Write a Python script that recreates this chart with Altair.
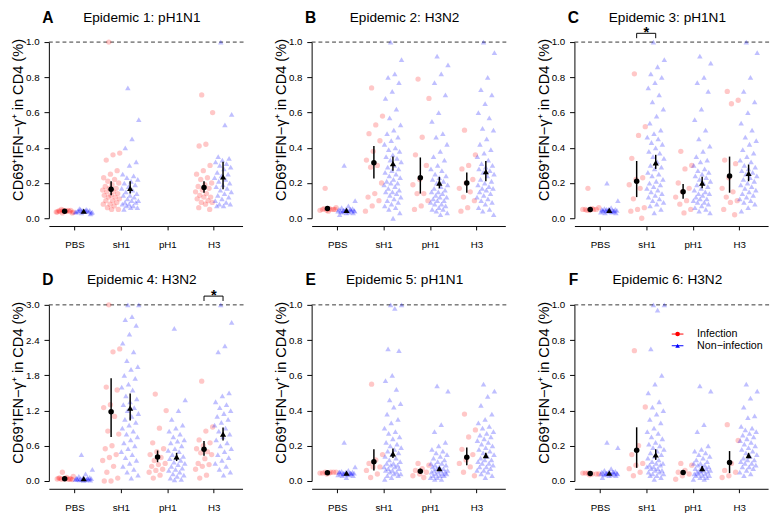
import json
import altair as alt
import pandas as pd

CATEGORIES = ["PBS", "sH1", "pH1", "H3"]
GROUPS = ["inf", "non"]
PANELS = ["A", "B", "C", "D", "E", "F"]
TITLES = ["Epidemic 1: pH1N1", "Epidemic 2: H3N2", "Epidemic 3: pH1N1",
          "Epidemic 4: H3N2", "Epidemic 5: pH1N1", "Epidemic 6: H3N2"]
Y_MAX = [1.0, 1.0, 1.0, 3.0, 1.0, 1.0]
Y_TICKS_1 = [0.0, 0.2, 0.4, 0.6, 0.8, 1.0]
Y_TICKS_3 = [0.0, 0.6, 1.2, 1.8, 2.4, 3.0]
SIGNIFICANT = [("C", "sH1"), ("D", "H3")]
LEGEND_LABELS = ["Infection", "Non\u2212infection"]
Y_TITLE = "CD69\u207aIFN\u2212\u03b3\u207a in CD4 (%)"

# ---------------- Panel A ----------------
A_PBS_inf = [0.03, 0.035, 0.04, 0.04, 0.045, 0.04, 0.035, 0.045, 0.05, 0.03, 0.04, 0.042, 0.038, 0.044, 0.036]
A_PBS_non = [0.03, 0.035, 0.04, 0.04, 0.045, 0.04, 0.035, 0.045, 0.05, 0.03, 0.04, 0.042, 0.038, 0.044, 0.036, 0.05, 0.055, 0.025]
A_sH1_inf = [1.0, 0.37, 0.36, 0.33, 0.27, 0.25, 0.23, 0.22, 0.21, 0.2, 0.19, 0.18, 0.17, 0.17, 0.16, 0.15, 0.15, 0.14, 0.13, 0.13, 0.12, 0.12, 0.11, 0.1, 0.1, 0.09, 0.08, 0.08, 0.07, 0.06, 0.05, 0.05]
A_sH1_non = [0.74, 0.56, 0.45, 0.4, 0.32, 0.3, 0.25, 0.24, 0.23, 0.22, 0.21, 0.2, 0.19, 0.18, 0.17, 0.16, 0.15, 0.14, 0.13, 0.13, 0.12, 0.11, 0.1, 0.1, 0.09, 0.09, 0.08, 0.08, 0.07, 0.07, 0.06, 0.06, 0.05]
A_pH1_inf = []
A_pH1_non = []
A_H3_inf = [0.7, 0.6, 0.42, 0.41, 0.3, 0.27, 0.25, 0.23, 0.22, 0.2, 0.19, 0.18, 0.17, 0.16, 0.15, 0.14, 0.13, 0.12, 0.12, 0.11, 0.1, 0.09, 0.09, 0.08, 0.06, 0.05]
A_H3_non = [1.0, 0.59, 0.53, 0.35, 0.34, 0.33, 0.32, 0.31, 0.3, 0.29, 0.28, 0.26, 0.25, 0.24, 0.23, 0.22, 0.21, 0.2, 0.19, 0.18, 0.17, 0.16, 0.15, 0.14, 0.13, 0.12, 0.11, 0.1, 0.09, 0.08, 0.08, 0.07, 0.07]
A_inf_ci = [(0.04, 0.037, 0.043), (0.165, 0.13, 0.21), None, (0.175, 0.145, 0.21)]
A_non_ci = [(0.04, 0.037, 0.043), (0.17, 0.14, 0.21), None, (0.235, 0.165, 0.32)]

# ---------------- Panel B ----------------
B_PBS_inf = [0.17, 0.06, 0.055, 0.05, 0.05, 0.045, 0.045, 0.05, 0.055, 0.05, 0.04]
B_PBS_non = [0.3, 0.1, 0.07, 0.06, 0.055, 0.05, 0.05, 0.05, 0.045, 0.045, 0.045, 0.04, 0.04, 0.04, 0.04, 0.035, 0.035, 0.03, 0.03, 0.02, 0.05, 0.045, 0.04]
B_sH1_inf = [0.74, 0.58, 0.53, 0.48, 0.44, 0.38, 0.33, 0.3, 0.29, 0.2, 0.14, 0.12, 0.1, 0.07, 0.04]
B_sH1_non = [1.0, 0.9, 0.82, 0.8, 0.77, 0.72, 0.68, 0.62, 0.57, 0.53, 0.5, 0.48, 0.46, 0.44, 0.42, 0.4, 0.39, 0.38, 0.36, 0.35, 0.34, 0.33, 0.32, 0.3, 0.29, 0.28, 0.27, 0.26, 0.25, 0.24, 0.23, 0.22, 0.21, 0.2, 0.2, 0.19, 0.18, 0.17, 0.16, 0.15, 0.15, 0.14, 0.13, 0.12, 0.11, 0.1, 0.09, 0.08, 0.07, 0.06, 0.05, 0.03, 0.0]
B_pH1_inf = [0.79, 0.68, 0.46, 0.36, 0.3, 0.22, 0.19, 0.14, 0.14, 0.1, 0.07, 0.05]
B_pH1_non = [0.92, 0.87, 0.82, 0.77, 0.7, 0.6, 0.55, 0.48, 0.46, 0.42, 0.38, 0.35, 0.33, 0.3, 0.28, 0.27, 0.25, 0.24, 0.23, 0.22, 0.21, 0.2, 0.19, 0.18, 0.17, 0.16, 0.15, 0.15, 0.14, 0.13, 0.12, 0.12, 0.11, 0.1, 0.1, 0.09, 0.08, 0.08, 0.07, 0.06, 0.05, 0.05, 0.04, 0.03, 0.02]
B_H3_inf = [0.5, 0.36, 0.3, 0.28, 0.22, 0.2, 0.17, 0.15, 0.12, 0.1, 0.06, 0.04]
B_H3_non = [1.0, 0.94, 0.8, 0.73, 0.7, 0.65, 0.6, 0.57, 0.51, 0.5, 0.45, 0.42, 0.39, 0.37, 0.35, 0.33, 0.31, 0.3, 0.29, 0.28, 0.27, 0.26, 0.25, 0.24, 0.22, 0.21, 0.2, 0.19, 0.18, 0.17, 0.17, 0.16, 0.15, 0.14, 0.13, 0.12, 0.11, 0.1, 0.09, 0.08, 0.06, 0.05, 0.04, 0.02]
B_inf_ci = [(0.055, 0.048, 0.062), (0.315, 0.225, 0.41), (0.23, 0.14, 0.345), (0.2, 0.145, 0.26)]
B_non_ci = [(0.045, 0.042, 0.049), (0.31, 0.27, 0.35), (0.2, 0.17, 0.235), (0.265, 0.21, 0.325)]

# ---------------- Panel C ----------------
C_PBS_inf = [0.17, 0.06, 0.055, 0.05, 0.05, 0.045, 0.05, 0.05, 0.045]
C_PBS_non = [0.2, 0.1, 0.06, 0.055, 0.05, 0.05, 0.05, 0.045, 0.045, 0.045, 0.04, 0.04, 0.04, 0.04, 0.035, 0.035, 0.03, 0.03, 0.05, 0.045, 0.04, 0.05]
C_sH1_inf = [0.82, 0.52, 0.47, 0.34, 0.23, 0.22, 0.19, 0.17, 0.11, 0.06, 0.05, 0.04, 0.0]
C_sH1_non = [1.0, 0.9, 0.86, 0.82, 0.8, 0.77, 0.74, 0.7, 0.66, 0.62, 0.58, 0.54, 0.5, 0.48, 0.46, 0.45, 0.43, 0.42, 0.4, 0.38, 0.37, 0.35, 0.34, 0.32, 0.3, 0.29, 0.28, 0.26, 0.25, 0.24, 0.22, 0.21, 0.2, 0.19, 0.18, 0.17, 0.16, 0.15, 0.14, 0.13, 0.12, 0.11, 0.1, 0.09, 0.08, 0.07, 0.05, 0.03]
C_pH1_inf = [0.38, 0.3, 0.28, 0.2, 0.17, 0.15, 0.12, 0.1, 0.08, 0.05, 0.03]
C_pH1_non = [0.92, 0.88, 0.8, 0.77, 0.72, 0.62, 0.56, 0.5, 0.45, 0.41, 0.38, 0.35, 0.33, 0.32, 0.3, 0.28, 0.27, 0.26, 0.25, 0.24, 0.23, 0.22, 0.21, 0.2, 0.19, 0.18, 0.17, 0.16, 0.15, 0.14, 0.14, 0.13, 0.12, 0.11, 0.11, 0.1, 0.09, 0.09, 0.08, 0.07, 0.06, 0.05, 0.04, 0.03]
C_H3_inf = [0.72, 0.67, 0.65, 0.33, 0.31, 0.23, 0.17, 0.15, 0.12, 0.1, 0.09, 0.05, 0.02]
C_H3_non = [1.0, 0.94, 0.8, 0.72, 0.66, 0.6, 0.54, 0.5, 0.46, 0.44, 0.42, 0.39, 0.37, 0.35, 0.33, 0.32, 0.3, 0.29, 0.28, 0.27, 0.26, 0.25, 0.24, 0.23, 0.22, 0.21, 0.2, 0.19, 0.18, 0.17, 0.16, 0.15, 0.14, 0.13, 0.12, 0.11, 0.1, 0.09, 0.08, 0.06, 0.04]
C_inf_ci = [(0.05, 0.046, 0.055), (0.21, 0.12, 0.325), (0.15, 0.11, 0.195), (0.24, 0.145, 0.35)]
C_non_ci = [(0.045, 0.042, 0.048), (0.315, 0.28, 0.36), (0.2, 0.17, 0.235), (0.255, 0.21, 0.305)]

# ---------------- Panel D ----------------
D_PBS_inf = [0.15, 0.08, 0.06, 0.05, 0.04, 0.04, 0.035, 0.03, 0.03, 0.025, 0.04, 0.05, 0.03]
D_PBS_non = [0.45, 0.2, 0.12, 0.08, 0.06, 0.05, 0.05, 0.04, 0.04, 0.04, 0.035, 0.03, 0.03, 0.03, 0.025, 0.02, 0.02, 0.015, 0.01, 0.04, 0.05]
D_sH1_inf = [3.0, 2.25, 2.2, 1.6, 1.55, 1.3, 1.25, 1.1, 0.85, 0.8, 0.6, 0.55, 0.45, 0.4, 0.35, 0.25, 0.15, 0.05, 0.0, 0.0]
D_sH1_non = [3.0, 3.0, 2.8, 2.75, 2.65, 2.5, 2.35, 2.2, 2.05, 1.95, 1.9, 1.8, 1.75, 1.65, 1.6, 1.55, 1.45, 1.4, 1.35, 1.3, 1.25, 1.2, 1.15, 1.1, 1.05, 1.0, 0.95, 0.9, 0.85, 0.8, 0.75, 0.7, 0.65, 0.6, 0.55, 0.5, 0.45, 0.4, 0.35, 0.3, 0.25, 0.2, 0.15, 0.1, 0.05]
D_pH1_inf = [1.48, 1.2, 0.9, 0.65, 0.55, 0.5, 0.45, 0.4, 0.35, 0.3, 0.28, 0.25, 0.2, 0.18, 0.15, 0.1, 0.05]
D_pH1_non = [2.6, 1.38, 1.2, 1.05, 0.95, 0.9, 0.85, 0.8, 0.75, 0.7, 0.68, 0.65, 0.6, 0.55, 0.52, 0.5, 0.45, 0.42, 0.4, 0.38, 0.35, 0.32, 0.3, 0.28, 0.25, 0.22, 0.2, 0.18, 0.15, 0.12, 0.1, 0.08, 0.05, 0.03, 0.02]
D_H3_inf = [1.7, 0.92, 0.85, 0.7, 0.65, 0.6, 0.55, 0.5, 0.48, 0.45, 0.38, 0.3, 0.28, 0.25, 0.2, 0.1, 0.05]
D_H3_non = [3.0, 2.7, 2.3, 2.2, 1.5, 1.45, 1.35, 1.3, 1.25, 1.2, 1.15, 1.1, 1.05, 1.0, 0.95, 0.9, 0.85, 0.8, 0.75, 0.7, 0.65, 0.6, 0.55, 0.5, 0.45, 0.4, 0.35, 0.3, 0.25, 0.2, 0.15, 0.1]
D_inf_ci = [(0.04, 0.035, 0.045), (1.18, 0.75, 1.75), (0.41, 0.32, 0.52), (0.54, 0.43, 0.68)]
D_non_ci = [(0.04, 0.035, 0.045), (1.24, 1.03, 1.49), (0.41, 0.34, 0.48), (0.8, 0.69, 0.91)]

# ---------------- Panel E ----------------
E_PBS_inf = [0.05, 0.05, 0.045, 0.045, 0.05, 0.04, 0.045, 0.05]
E_PBS_non = [0.22, 0.08, 0.06, 0.055, 0.05, 0.05, 0.05, 0.045, 0.045, 0.045, 0.04, 0.04, 0.04, 0.04, 0.035, 0.035, 0.03, 0.03, 0.02, 0.05, 0.045, 0.04]
E_sH1_inf = [0.55, 0.15, 0.12, 0.1, 0.08, 0.08, 0.06, 0.04, 0.02]
E_sH1_non = [1.0, 1.0, 0.98, 0.75, 0.74, 0.6, 0.57, 0.52, 0.46, 0.44, 0.42, 0.38, 0.35, 0.33, 0.3, 0.28, 0.27, 0.25, 0.24, 0.22, 0.21, 0.2, 0.19, 0.18, 0.17, 0.16, 0.15, 0.14, 0.13, 0.12, 0.11, 0.1, 0.1, 0.09, 0.09, 0.08, 0.08, 0.07, 0.07, 0.06, 0.06, 0.05, 0.05, 0.04, 0.04, 0.03, 0.03, 0.02, 0.01]
E_pH1_inf = [0.1, 0.09, 0.07, 0.06, 0.05, 0.04, 0.03, 0.02]
E_pH1_non = [0.54, 0.51, 0.32, 0.28, 0.22, 0.2, 0.18, 0.17, 0.16, 0.15, 0.14, 0.13, 0.12, 0.11, 0.1, 0.1, 0.09, 0.09, 0.08, 0.08, 0.07, 0.07, 0.06, 0.06, 0.06, 0.05, 0.05, 0.05, 0.04, 0.04, 0.04, 0.03, 0.03, 0.03, 0.02, 0.02, 0.01, 0.01]
E_H3_inf = [0.38, 0.29, 0.25, 0.18, 0.15, 0.12, 0.1, 0.08, 0.05, 0.03]
E_H3_non = [0.55, 0.51, 0.48, 0.43, 0.38, 0.35, 0.33, 0.31, 0.3, 0.28, 0.27, 0.26, 0.25, 0.24, 0.23, 0.22, 0.21, 0.2, 0.19, 0.18, 0.17, 0.16, 0.15, 0.14, 0.13, 0.12, 0.12, 0.11, 0.1, 0.1, 0.09, 0.08, 0.08, 0.07, 0.06, 0.06, 0.05, 0.04, 0.03, 0.02]
E_inf_ci = [(0.047, 0.044, 0.05), (0.11, 0.06, 0.18), (0.055, 0.045, 0.07), (0.135, 0.09, 0.19)]
E_non_ci = [(0.045, 0.043, 0.047), (0.155, 0.13, 0.185), (0.07, 0.06, 0.08), (0.145, 0.13, 0.16)]

# ---------------- Panel F ----------------
F_PBS_inf = [0.045, 0.04, 0.04, 0.045, 0.04, 0.035, 0.045]
F_PBS_non = [0.22, 0.19, 0.07, 0.06, 0.055, 0.05, 0.05, 0.05, 0.045, 0.045, 0.045, 0.04, 0.04, 0.04, 0.04, 0.035, 0.035, 0.03, 0.03, 0.02, 0.05, 0.045, 0.04]
F_sH1_inf = [0.74, 0.42, 0.2, 0.15, 0.1, 0.09, 0.07, 0.05, 0.03]
F_sH1_non = [1.0, 1.0, 0.97, 0.75, 0.6, 0.55, 0.5, 0.45, 0.42, 0.4, 0.38, 0.35, 0.33, 0.3, 0.28, 0.27, 0.25, 0.24, 0.22, 0.21, 0.2, 0.19, 0.18, 0.17, 0.16, 0.15, 0.14, 0.13, 0.12, 0.11, 0.1, 0.1, 0.09, 0.09, 0.08, 0.08, 0.07, 0.07, 0.06, 0.06, 0.05, 0.05, 0.04, 0.04, 0.03, 0.03, 0.02, 0.01]
F_pH1_inf = [0.1, 0.09, 0.06, 0.05, 0.04, 0.03, 0.01]
F_pH1_non = [0.54, 0.51, 0.32, 0.28, 0.2, 0.18, 0.17, 0.16, 0.15, 0.14, 0.13, 0.12, 0.11, 0.1, 0.1, 0.09, 0.09, 0.08, 0.08, 0.07, 0.07, 0.06, 0.06, 0.06, 0.05, 0.05, 0.05, 0.04, 0.04, 0.04, 0.03, 0.03, 0.03, 0.02, 0.02, 0.01, 0.01]
F_H3_inf = [0.32, 0.23, 0.1, 0.06, 0.05, 0.03, 0.02]
F_H3_non = [0.55, 0.51, 0.47, 0.42, 0.37, 0.36, 0.31, 0.3, 0.29, 0.28, 0.27, 0.26, 0.25, 0.24, 0.23, 0.22, 0.21, 0.2, 0.19, 0.18, 0.17, 0.16, 0.15, 0.14, 0.13, 0.12, 0.12, 0.11, 0.1, 0.1, 0.09, 0.08, 0.08, 0.07, 0.06, 0.05, 0.04, 0.03]
F_inf_ci = [(0.043, 0.04, 0.046), (0.175, 0.075, 0.305), (0.048, 0.035, 0.063), (0.105, 0.045, 0.17)]
F_non_ci = [(0.045, 0.043, 0.047), (0.148, 0.12, 0.18), (0.07, 0.055, 0.085), (0.145, 0.13, 0.16)]

# ---------------- build tables ----------------
GROUP_SHIFT = {"inf": -0.21, "non": 0.2}
JITTER = 0.19
G = globals()

rows = []
for p in PANELS:
    for ci, c in enumerate(CATEGORIES):
        for g in GROUPS:
            for i, v in enumerate(G[f"{p}_{c}_{g}"]):
                j = ((i * 0.6180339887 + 0.37) % 1.0 - 0.5) * 2 * JITTER
                rows.append(dict(panel=p, group=g, value=v, xpos=ci + GROUP_SHIFT[g] + j))
points = pd.DataFrame(rows)

srows = []
for p in PANELS:
    for g in GROUPS:
        for ci, s in enumerate(G[f"{p}_{g}_ci"]):
            if s is None:
                continue
            m, lo, hi = s
            srows.append(dict(panel=p, group=g, mean=m, lo=lo, hi=hi, xpos=ci + GROUP_SHIFT[g]))
stats = pd.DataFrame(srows)

W, H = 199, 181
XDOM = [-0.55, 3.62]
FONT = "Liberation Sans"
RED, BLUE = "#FF0000", "#0000FF"
label_expr = json.dumps(CATEGORIES) + "[datum.value]"


def panel_chart(k, p):
    ymax = Y_MAX[k]
    yticks = Y_TICKS_3 if ymax > 1.5 else Y_TICKS_1
    xsc = alt.Scale(domain=XDOM, nice=False, zero=False)
    ysc = alt.Scale(domain=[0, ymax], nice=False, zero=False)
    xax = alt.Axis(values=[0, 1, 2, 3], labelExpr=label_expr, title=None, offset=8,
                   tickSize=4, labelFontSize=10, labelPadding=10, grid=False,
                   domainColor="black", tickColor="black", labelColor="black")
    yax = alt.Axis(values=yticks, format=".1f", title=Y_TITLE, titleFontSize=15,
                   titleFontWeight="normal", titleColor="black",
                   titleX=-32, titleY=H / 2 - 11, titleBaseline="middle", titleAngle=270,
                   tickSize=5, labelFontSize=10, labelPadding=5, grid=False,
                   domainColor="black", tickColor="black", labelColor="black")
    X = lambda f: alt.X(f, scale=xsc, axis=xax)
    Y = lambda f: alt.Y(f, scale=ysc, axis=yax)

    pts = points[points.panel == p]
    st = stats[stats.panel == p]

    red = alt.Chart(pts).transform_filter(alt.datum.group == "inf").mark_circle(
        size=30, color=RED, opacity=0.22).encode(x=X("xpos:Q"), y=Y("value:Q"))
    blue = alt.Chart(pts).transform_filter(alt.datum.group == "non").mark_point(
        shape="triangle-up", filled=True, size=32, color=BLUE, opacity=0.25).encode(
        x=X("xpos:Q"), y=Y("value:Q"))
    dash = alt.Chart(pd.DataFrame({"y": [ymax]})).mark_rule(
        color="#333333", strokeDash=[4, 3], strokeWidth=1).encode(
        y=Y("y:Q"), x=alt.value(0), x2=alt.value(W + 3))
    err = alt.Chart(st).mark_rule(color="black", strokeWidth=1.5).encode(
        x=X("xpos:Q"), y=Y("lo:Q"), y2="hi:Q")
    mean_c = alt.Chart(st).transform_filter(alt.datum.group == "inf").mark_circle(
        size=32, color="black", opacity=1).encode(x=X("xpos:Q"), y=Y("mean:Q"))
    mean_t = alt.Chart(st).transform_filter(alt.datum.group == "non").mark_point(
        shape="triangle-up", filled=True, size=40, color="black", opacity=1).encode(
        x=X("xpos:Q"), y=Y("mean:Q"))
    letter = alt.Chart(pd.DataFrame({"t": [p]})).mark_text(
        fontSize=16, fontWeight="bold", font=FONT, color="black", baseline="middle", align="center"
    ).encode(text="t:N", x=alt.value(-1), y=alt.value(-25))
    title = alt.Chart(pd.DataFrame({"t": [TITLES[k]]})).mark_text(
        fontSize=14, font=FONT, color="black", baseline="middle", align="center"
    ).encode(text="t:N", x=alt.value(W / 2 - 4), y=alt.value(-25))

    layers = [dash, red, blue, err, mean_c, mean_t, letter, title]

    sig = [c for (pp, c) in SIGNIFICANT if pp == p]
    if sig:
        ci = CATEGORIES.index(sig[0])
        sd = pd.DataFrame({"xl": [ci + GROUP_SHIFT["inf"]], "xr": [ci + GROUP_SHIFT["non"]],
                           "xc": [ci], "y": [ymax]})
        top = alt.Chart(sd).mark_rule(color="black", strokeWidth=1, yOffset=-9).encode(
            x=X("xl:Q"), x2="xr:Q", y=Y("y:Q"))
        legl = alt.Chart(sd).mark_rule(color="black", strokeWidth=1, yOffset=-9, y2Offset=-4).encode(
            x=X("xl:Q"), y=Y("y:Q"), y2="y:Q")
        legr = alt.Chart(sd).mark_rule(color="black", strokeWidth=1, yOffset=-9, y2Offset=-4).encode(
            x=X("xr:Q"), y=Y("y:Q"), y2="y:Q")
        star = alt.Chart(sd).mark_text(text="*", fontSize=15, fontWeight="bold", font=FONT,
                                       baseline="middle", dy=-10).encode(x=X("xc:Q"), y=Y("y:Q"))
        layers += [top, legl, legr, star]

    if p == "F":
        one = pd.DataFrame({"a": [0]})
        for lab, col, shape, yy in [(LEGEND_LABELS[0], RED, "circle", 30),
                                     (LEGEND_LABELS[1], BLUE, "triangle-up", 42)]:
            layers.append(alt.Chart(one).mark_rule(color=col, strokeWidth=1).encode(
                x=alt.value(100), x2=alt.value(112), y=alt.value(yy)))
            layers.append(alt.Chart(one).mark_point(shape=shape, filled=True, size=22,
                                                    color=col, opacity=1).encode(
                x=alt.value(106), y=alt.value(yy)))
            layers.append(alt.Chart(pd.DataFrame({"t": [lab]})).mark_text(
                fontSize=11, font=FONT, color="black", align="left", baseline="middle").encode(
                text="t:N", x=alt.value(126), y=alt.value(yy)))

    return alt.layer(*layers).properties(width=W, height=H)


charts = [panel_chart(k, p) for k, p in enumerate(PANELS)]
chart = alt.concat(*charts, columns=3, spacing={"row": 24, "column": 27}).properties(
    padding={"left": 2, "top": -5, "right": 0, "bottom": 0}
).configure(font=FONT).configure_view(stroke=None).configure_axis(
    labelFont=FONT, titleFont=FONT)

chart.save("out.html", embed_options={"renderer": "svg", "actions": False})
